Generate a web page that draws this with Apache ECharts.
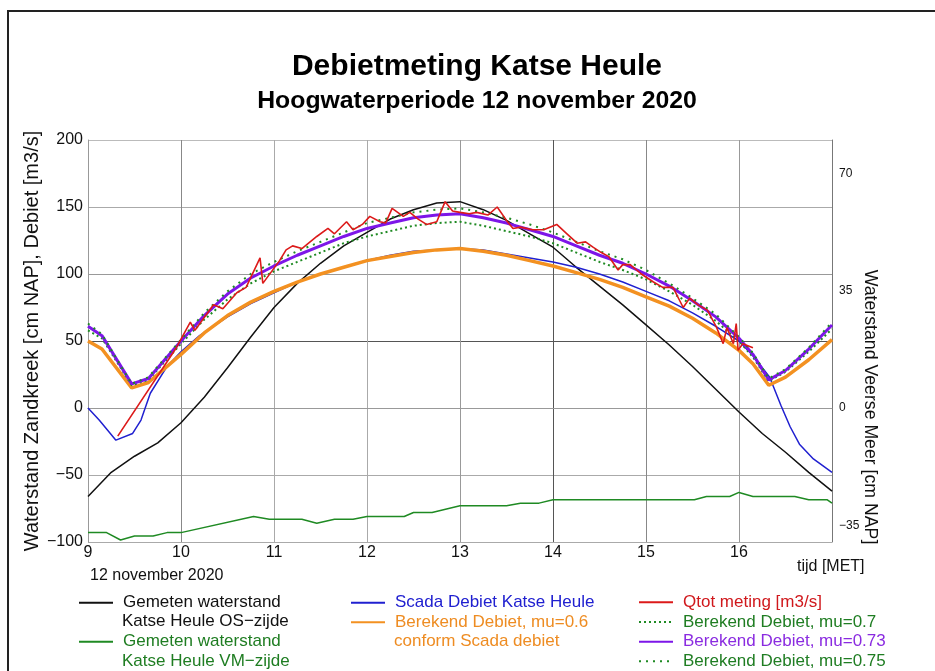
<!DOCTYPE html>
<html>
<head>
<meta charset="utf-8">
<script src="https://cdn.jsdelivr.net/npm/echarts@6/dist/echarts.min.js"></script>
<style>
  html, body { margin: 0; padding: 0; background: #fff; }
  #main { width: 935px; height: 671px; }
</style>
</head>
<body>
<div id="main"></div>
<script>
// waterstand Oosterschelde-zijde (cm NAP), linker as
const tijdOS = [9.0, 9.25, 9.5, 9.75, 10.0, 10.25, 10.5, 10.75, 11.0, 11.25, 11.5, 11.75, 12.0, 12.25, 12.5, 12.75, 13.0,
  13.25, 13.5, 13.75, 14.0, 14.25, 14.5, 14.75, 15.0, 15.25, 15.5, 15.75, 16.0, 16.25, 16.5, 16.75, 17.0];
const standOS = [-66, -48, -36, -26, -11, 8, 30, 53, 75, 93, 108, 121, 131, 141, 148, 153, 154,
  148, 140, 130, 120, 105, 91, 77, 62, 47, 31, 14, -3, -19, -33, -48, -62];

// waterstand Veerse Meer-zijde (cm NAP), rechter as
const tijdVM = [9.0, 9.2, 9.35, 9.5, 9.7, 9.85, 10.0, 10.78, 10.95, 11.3, 11.46, 11.65, 11.85, 12.0, 12.4, 12.5, 12.7, 13.0,
  13.5, 13.65, 13.85, 14.0, 15.52, 15.65, 15.9, 16.0, 16.15, 16.6, 16.75, 16.95, 17.0];
const standVM = [-37.2, -37.2, -39.4, -38.2, -38.2, -37.2, -37.2, -32.4, -33.2, -33.2, -34.4, -33.2, -33.2, -32.4, -32.4, -31.2, -31.2, -29.2,
  -29.2, -28.4, -28.4, -27.4, -27.4, -26.4, -26.4, -25.2, -26.4, -26.4, -27.4, -27.4, -28.4];

// Scada debiet (m3/s)
const tijdScada = [9.0, 9.12, 9.3, 9.48, 9.57, 9.67, 9.85, 10.0, 10.2, 10.5, 10.75, 11.0, 11.25, 11.5, 11.75, 12.0, 12.25, 12.5, 12.75, 13.0,
  13.25, 13.5, 13.75, 14.0, 14.25, 14.5, 14.75, 15.0, 15.25, 15.5, 15.75, 16.0, 16.15, 16.33, 16.45, 16.55, 16.65, 16.8, 17.0];
const debietScada = [0, -9, -24, -19, -9, 11, 31, 42, 54, 68, 78, 86, 94, 100, 105, 110, 114, 117, 118, 119,
  118, 115, 112, 109, 105, 100, 94, 87, 80, 71, 61, 50, 39, 23, 2, -14, -27, -38, -48];

// berekende debieten (m3/s)
const tijdBerekend = [9.0, 9.15, 9.47, 9.65, 10.0, 10.25, 10.5, 10.75, 11.0, 11.25, 11.5, 11.75, 12.0, 12.25, 12.5, 12.75, 13.0,
  13.25, 13.5, 13.75, 14.0, 14.25, 14.5, 14.75, 15.0, 15.25, 15.5, 15.75, 16.0, 16.15, 16.32, 16.5, 16.75, 17.0];
const debietMu060 = [50, 44, 15, 19, 40, 56, 69, 79, 87, 94, 100, 105, 110, 113, 116, 118, 119,
  117, 114, 110, 106, 101, 96, 90, 83, 76, 67, 56, 43, 33, 17, 23, 36, 51];
const debietMu070 = [58, 52, 17, 21, 48, 66, 81, 93, 102, 109, 116, 123, 128, 132, 136, 138, 139,
  136, 132, 128, 123, 116, 109, 103, 96, 87, 77, 65, 50, 38, 20, 27, 42, 59];
const debietMu073 = [61, 54, 18, 22, 50, 69, 85, 97, 106, 114, 121, 128, 134, 138, 142, 144, 145,
  142, 138, 133, 128, 121, 114, 108, 100, 91, 80, 68, 52, 40, 21, 28, 44, 62];
const debietMu075 = [63, 55, 18, 23, 51, 71, 87, 100, 109, 117, 124, 131, 138, 142, 146, 148, 149,
  146, 142, 137, 131, 124, 117, 111, 103, 93, 82, 70, 53, 41, 22, 29, 45, 64];

// Qtot meting (m3/s)
const tijdQtot = [9.32, 9.95, 10.1, 10.15, 10.35, 10.45, 10.6, 10.7, 10.85, 10.88, 11.06, 11.13, 11.2, 11.3, 11.46, 11.58, 11.65,
  11.78, 11.85, 11.95, 12.03, 12.14, 12.2, 12.27, 12.39, 12.46, 12.55, 12.64, 12.75, 12.84, 12.92, 13.0, 13.1, 13.18,
  13.3, 13.4, 13.5, 13.57, 13.65, 13.78, 13.9, 14.04, 14.15, 14.26, 14.35, 14.43, 14.52, 14.6, 14.7, 14.75, 14.83,
  14.95, 15.08, 15.18, 15.29, 15.4, 15.47, 15.56, 15.66, 15.76, 15.83, 15.87, 15.94, 15.97, 15.99, 16.04, 16.15];
const debietQtot = [-21, 45, 64, 58, 77, 74, 86, 90, 112, 93, 110, 118, 121, 119, 128, 134, 130,
  139, 133, 137, 143, 139, 138, 149, 143, 146, 141, 137, 139, 154, 147, 146, 145, 146,
  144, 150, 140, 134, 135, 133, 133, 137, 130, 123, 124, 120, 116, 113, 103, 107, 107,
  100, 94, 90, 90, 75, 82, 77, 73, 60, 48, 60, 48, 63, 43, 48, 45];

const xTicks = [9, 10, 11, 12, 13, 14, 15, 16];
const rechtsTicks = [-35, 0, 35, 70];

const FONT = '"Liberation Sans", Arial, sans-serif';

function paren(t, v) {
  return t.map((x, i) => [x, v[i]]);
}
function minus(v) {
  return String(v).replace('-', '\u2212');
}

const namen = {
  os: 'Gemeten waterstand Katse Heule OS\u2212zijde',
  vm: 'Gemeten waterstand Katse Heule VM\u2212zijde',
  scada: 'Scada Debiet Katse Heule',
  mu060: 'Berekend Debiet, mu=0.6 conform Scada debiet',
  qtot: 'Qtot meting [m3/s]',
  mu070: 'Berekend Debiet, mu=0.7',
  mu073: 'Berekend Debiet, mu=0.73',
  mu075: 'Berekend Debiet, mu=0.75'
};
// eerste regel in de legenda, tweede regel los eronder
const eersteRegel = {};
eersteRegel[namen.os] = 'Gemeten waterstand';
eersteRegel[namen.vm] = 'Gemeten waterstand';
eersteRegel[namen.mu060] = 'Berekend Debiet, mu=0.6';

const kleur = {
  zwart: '#111111', groen: '#1f8a23', blauw: '#2020d0', oranje: '#f39121',
  rood: '#dc1a1a', paars: '#7d16e8', groenTekst: '#1f7d22', paarsTekst: '#8a2be0'
};

const legendaBasis = {
  orient: 'vertical',
  padding: 0,
  height: 79,
  itemWidth: 34,
  itemHeight: 12,
  selectedMode: false,
  itemStyle: { opacity: 0 },
  textStyle: { fontFamily: FONT, fontSize: 17, lineHeight: 19.5, padding: [0, 0, 0, 5] },
  formatter: function (name) { return eersteRegel[name] || name; }
};

var myChart = echarts.init(document.getElementById('main'));
var option = {
  animation: false,
  backgroundColor: '#ffffff',
  grid: { left: 88, right: 103, top: 140, bottom: 129 },
  xAxis: {
    type: 'value',
    min: 9, max: 17, interval: 1,
    axisLine: { show: true, lineStyle: { color: '#999' } },
    axisTick: { show: false },
    splitLine: { show: true, lineStyle: { color: ['#999', '#888', '#aaa', '#aaa', '#999', '#555', '#888', '#999', '#777'], width: 1 } },
    axisLabel: {
      fontFamily: FONT, fontSize: 16, color: '#111', margin: 3,
      formatter: function (v) { return xTicks.indexOf(v) >= 0 ? String(v) : ''; }
    }
  },
  yAxis: [{
    type: 'value',
    min: -100, max: 200, interval: 50,
    name: 'Waterstand Zandkreek [cm NAP], Debiet [m3/s]',
    nameLocation: 'middle',
    nameGap: 46,
    nameMoveOverlap: false,
    nameTextStyle: { fontFamily: FONT, fontSize: 20, color: '#111' },
    axisLine: { show: true, lineStyle: { color: '#999' } },
    axisTick: { show: false },
    splitLine: { show: true, lineStyle: { color: ['#aaa', '#aaa', '#666', '#555', '#999', '#aaa', '#bbb'], width: 1 } },
    axisLabel: { fontFamily: FONT, fontSize: 16, color: '#111', margin: 5, formatter: minus }
  }, {
    type: 'value',
    position: 'right',
    min: -40, max: 80,
    axisLine: { show: true, lineStyle: { color: '#777' } },
    axisTick: { show: false },
    splitLine: { show: false },
    axisLabel: {
      customValues: rechtsTicks,
      fontFamily: FONT, fontSize: 12, color: '#111', margin: 7, formatter: minus
    }
  }],
  legend: [
    Object.assign({}, legendaBasis, {
      left: 78, top: 593, itemGap: 19.5,
      data: [
        { name: namen.os, textStyle: { color: '#111' } },
        { name: namen.vm, textStyle: { color: kleur.groenTekst } }
      ]
    }),
    Object.assign({}, legendaBasis, {
      left: 350, top: 593, itemGap: 0,
      data: [
        { name: namen.scada, textStyle: { color: kleur.blauw } },
        { name: namen.mu060, textStyle: { color: '#ee8c22' } }
      ]
    }),
    Object.assign({}, legendaBasis, {
      left: 638, top: 592.5, itemGap: 0.2,
      data: [
        { name: namen.qtot, textStyle: { color: '#d0181c' } },
        { name: namen.mu070, textStyle: { color: kleur.groenTekst } },
        { name: namen.mu073, textStyle: { color: kleur.paarsTekst } },
        { name: namen.mu075, textStyle: { color: kleur.groenTekst } }
      ]
    })
  ],
  graphic: [
    { type: 'polyline', silent: true, shape: { points: [[8, 671], [8, 11], [935, 11]] },
      style: { stroke: '#222', lineWidth: 2, fill: null } },
    { type: 'text', x: 477, y: 67, style: { text: 'Debietmeting Katse Heule', font: 'bold 30px ' + FONT, fill: '#000', align: 'center', verticalAlign: 'middle' } },
    { type: 'text', x: 477, y: 101, style: { text: 'Hoogwaterperiode 12 november 2020', font: 'bold 24.8px ' + FONT, fill: '#000', align: 'center', verticalAlign: 'middle' } },
    { type: 'text', x: 90, y: 576, style: { text: '12 november 2020', font: '16px ' + FONT, fill: '#111', verticalAlign: 'middle' } },
    { type: 'text', x: 797, y: 567, style: { text: 'tijd [MET]', font: '16px ' + FONT, fill: '#111', verticalAlign: 'middle' } },
    { type: 'text', x: 870, y: 407, rotation: -Math.PI / 2,
      style: { text: 'Waterstand Veerse Meer [cm NAP]', font: '17.7px ' + FONT, fill: '#111', align: 'center', verticalAlign: 'middle' } },
    { type: 'text', x: 122, y: 621.5, style: { text: 'Katse Heule OS\u2212zijde', font: '17px ' + FONT, fill: '#111', verticalAlign: 'middle' } },
    { type: 'text', x: 122, y: 661, style: { text: 'Katse Heule VM\u2212zijde', font: '17px ' + FONT, fill: kleur.groenTekst, verticalAlign: 'middle' } },
    { type: 'text', x: 394, y: 641, style: { text: 'conform Scada debiet', font: '17px ' + FONT, fill: '#ee8c22', verticalAlign: 'middle' } }
  ],
  series: [
    { name: namen.os, type: 'line', symbol: 'none', data: paren(tijdOS, standOS),
      lineStyle: { color: kleur.zwart, width: 1.5 }, itemStyle: { color: kleur.zwart }, z: 2 },
    { name: namen.vm, type: 'line', yAxisIndex: 1, symbol: 'none', data: paren(tijdVM, standVM),
      lineStyle: { color: kleur.groen, width: 1.5 }, itemStyle: { color: kleur.groen }, z: 2 },
    { name: namen.scada, type: 'line', symbol: 'none', data: paren(tijdScada, debietScada),
      lineStyle: { color: kleur.blauw, width: 1.5 }, itemStyle: { color: kleur.blauw }, z: 3 },
    { name: namen.mu060, type: 'line', symbol: 'none', data: paren(tijdBerekend, debietMu060),
      lineStyle: { color: kleur.oranje, width: 3.5 }, itemStyle: { color: kleur.oranje }, z: 4 },
    { name: namen.mu070, type: 'line', symbol: 'none', data: paren(tijdBerekend, debietMu070),
      lineStyle: { color: kleur.groen, width: 2, type: [2, 3] }, itemStyle: { color: kleur.groen }, z: 5 },
    { name: namen.mu073, type: 'line', symbol: 'none', data: paren(tijdBerekend, debietMu073),
      lineStyle: { color: kleur.paars, width: 3 }, itemStyle: { color: kleur.paars }, z: 6 },
    { name: namen.mu075, type: 'line', symbol: 'none', data: paren(tijdBerekend, debietMu075),
      lineStyle: { color: kleur.groen, width: 2, type: [2, 5] }, itemStyle: { color: kleur.groen }, z: 7 },
    { name: namen.qtot, type: 'line', symbol: 'none', data: paren(tijdQtot, debietQtot),
      lineStyle: { color: kleur.rood, width: 1.6 }, itemStyle: { color: kleur.rood }, z: 8 }
  ]
};
myChart.setOption(option);
</script>
</body>
</html>
